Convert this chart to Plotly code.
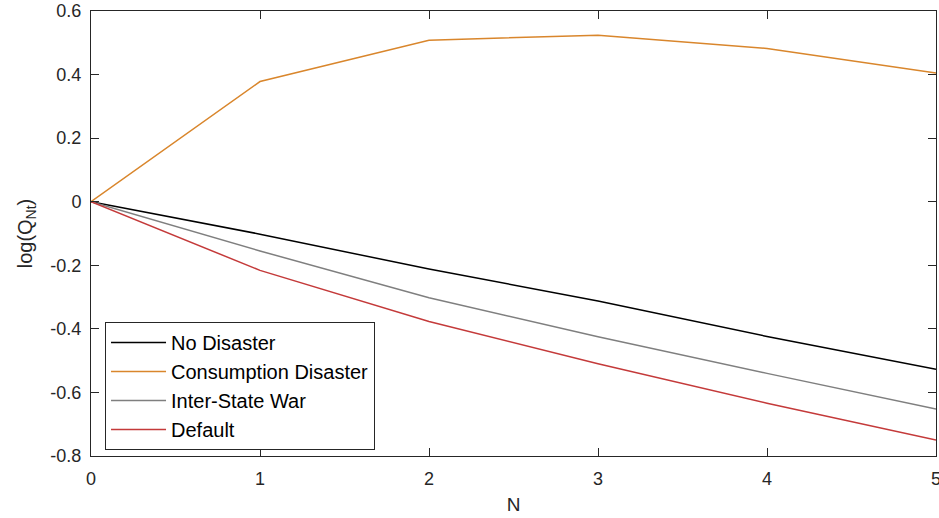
import plotly.graph_objects as go

N = [0, 1, 2, 3, 4, 5]
no_disaster = [0, -0.102, -0.212, -0.312, -0.424, -0.527]
consumption = [0, 0.378, 0.508, 0.524, 0.482, 0.405]
interstate = [0, -0.155, -0.302, -0.425, -0.540, -0.652]
default = [0, -0.216, -0.377, -0.510, -0.634, -0.750]

series = [
    ("No Disaster", no_disaster, "#000000"),
    ("Consumption Disaster", consumption, "#D9862C"),
    ("Inter-State War", interstate, "#7F7F7F"),
    ("Default", default, "#C43A3A"),
]

fig = go.Figure()
for name, vals, col in series:
    fig.add_trace(go.Scatter(x=N, y=vals, mode="lines", name=name,
                             line=dict(color=col, width=1.5)))

axis_common = dict(showgrid=False, zeroline=False, showline=True, linecolor="#262626",
                   linewidth=1, mirror="ticks", ticks="inside", ticklen=8,
                   automargin=False,
                   tickcolor="#262626", tickfont=dict(size=18, color="#262626"))

fig.update_layout(
    width=939, height=518,
    margin=dict(l=91, r=3, t=11, b=62),
    paper_bgcolor="white", plot_bgcolor="white",
    font=dict(family="Liberation Sans, Arial, sans-serif", color="#262626"),
    xaxis=dict(range=[0, 5], tickvals=[0, 1, 2, 3, 4, 5], ticklabeloverflow="allow",
               ticklabelstandoff=6,
               title=dict(text="N", font=dict(size=19), standoff=10), **axis_common),
    yaxis=dict(range=[-0.8, 0.6], tickvals=[-0.8, -0.6, -0.4, -0.2, 0, 0.2, 0.4, 0.6],
               ticktext=["-0.8", "-0.6", "-0.4", "-0.2", "0", "0.2", "0.4", "0.6"],
               ticklabelstandoff=5, ticklabeloverflow="allow",
               title=dict(text="log(Q<sub>Nt</sub>)", font=dict(size=20), standoff=12), **axis_common),
    legend=dict(x=0.0166, y=0.0135, xanchor="left", yanchor="bottom",
                bgcolor="white", bordercolor="#262626", borderwidth=1,
                font=dict(size=20, color="#000000"), tracegroupgap=0,
                itemwidth=55),
    showlegend=True,
)

fig.write_html("out.html")
